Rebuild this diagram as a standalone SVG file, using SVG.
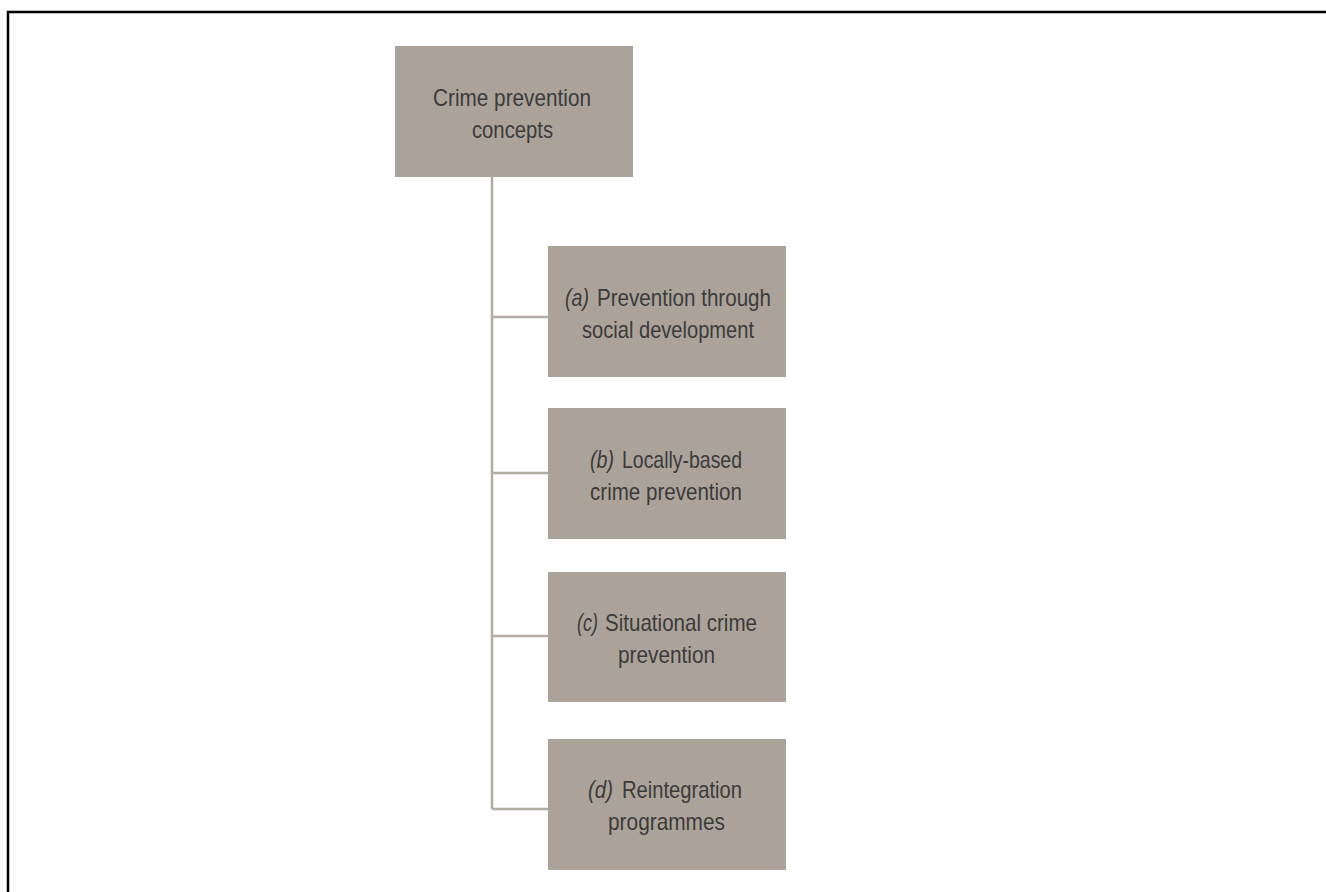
<svg xmlns="http://www.w3.org/2000/svg" width="1326" height="892" viewBox="0 0 1326 892">
<style>
.box{fill:#aba39a}
.lbl{font-family:"Liberation Sans",Arial,sans-serif;font-size:24px;fill:#3b3b3b;text-anchor:middle}
.st{text-anchor:start}
.it{font-style:italic}
.conn{stroke:#b3aca4;stroke-width:2.5;fill:none}
.frame{stroke:#000;stroke-width:2.5;fill:none}
</style>
<rect width="1326" height="892" fill="#fff"/>
<path class="frame" d="M8,892 V12 H1326"/>
<g id="connectors">
<path class="conn" d="M492,177 V809"/>
<path class="conn" d="M492,317 H548"/>
<path class="conn" d="M492,473 H548"/>
<path class="conn" d="M492,636 H548"/>
<path class="conn" d="M492,809 H548"/>
</g>
<g id="root">
<rect class="box" x="395" y="46" width="238" height="131"/>
<text class="lbl" x="512" y="106" textLength="158" lengthAdjust="spacingAndGlyphs">Crime prevention</text>
<text class="lbl" x="512.5" y="138" textLength="81" lengthAdjust="spacingAndGlyphs">concepts</text>
</g>
<g id="node-a">
<rect class="box" x="548" y="246" width="238" height="131"/>
<text class="lbl st it" x="565" y="306" textLength="24" lengthAdjust="spacingAndGlyphs">(a)</text>
<text class="lbl st" x="597" y="306" textLength="174" lengthAdjust="spacingAndGlyphs">Prevention through</text>
<text class="lbl" x="668" y="338" textLength="172" lengthAdjust="spacingAndGlyphs">social development</text>
</g>
<g id="node-b">
<rect class="box" x="548" y="408" width="238" height="131"/>
<text class="lbl st it" x="590" y="468" textLength="24" lengthAdjust="spacingAndGlyphs">(b)</text>
<text class="lbl st" x="622" y="468" textLength="120" lengthAdjust="spacingAndGlyphs">Locally-based</text>
<text class="lbl" x="666" y="500" textLength="152" lengthAdjust="spacingAndGlyphs">crime prevention</text>
</g>
<g id="node-c">
<rect class="box" x="548" y="572" width="238" height="130"/>
<text class="lbl st it" x="577" y="631" textLength="21" lengthAdjust="spacingAndGlyphs">(c)</text>
<text class="lbl st" x="605" y="631" textLength="152" lengthAdjust="spacingAndGlyphs">Situational crime</text>
<text class="lbl" x="666.5" y="663" textLength="97" lengthAdjust="spacingAndGlyphs">prevention</text>
</g>
<g id="node-d">
<rect class="box" x="548" y="739" width="238" height="131"/>
<text class="lbl st it" x="588" y="798" textLength="25" lengthAdjust="spacingAndGlyphs">(d)</text>
<text class="lbl st" x="622" y="798" textLength="120" lengthAdjust="spacingAndGlyphs">Reintegration</text>
<text class="lbl" x="666.5" y="830" textLength="117" lengthAdjust="spacingAndGlyphs">programmes</text>
</g>
</svg>
